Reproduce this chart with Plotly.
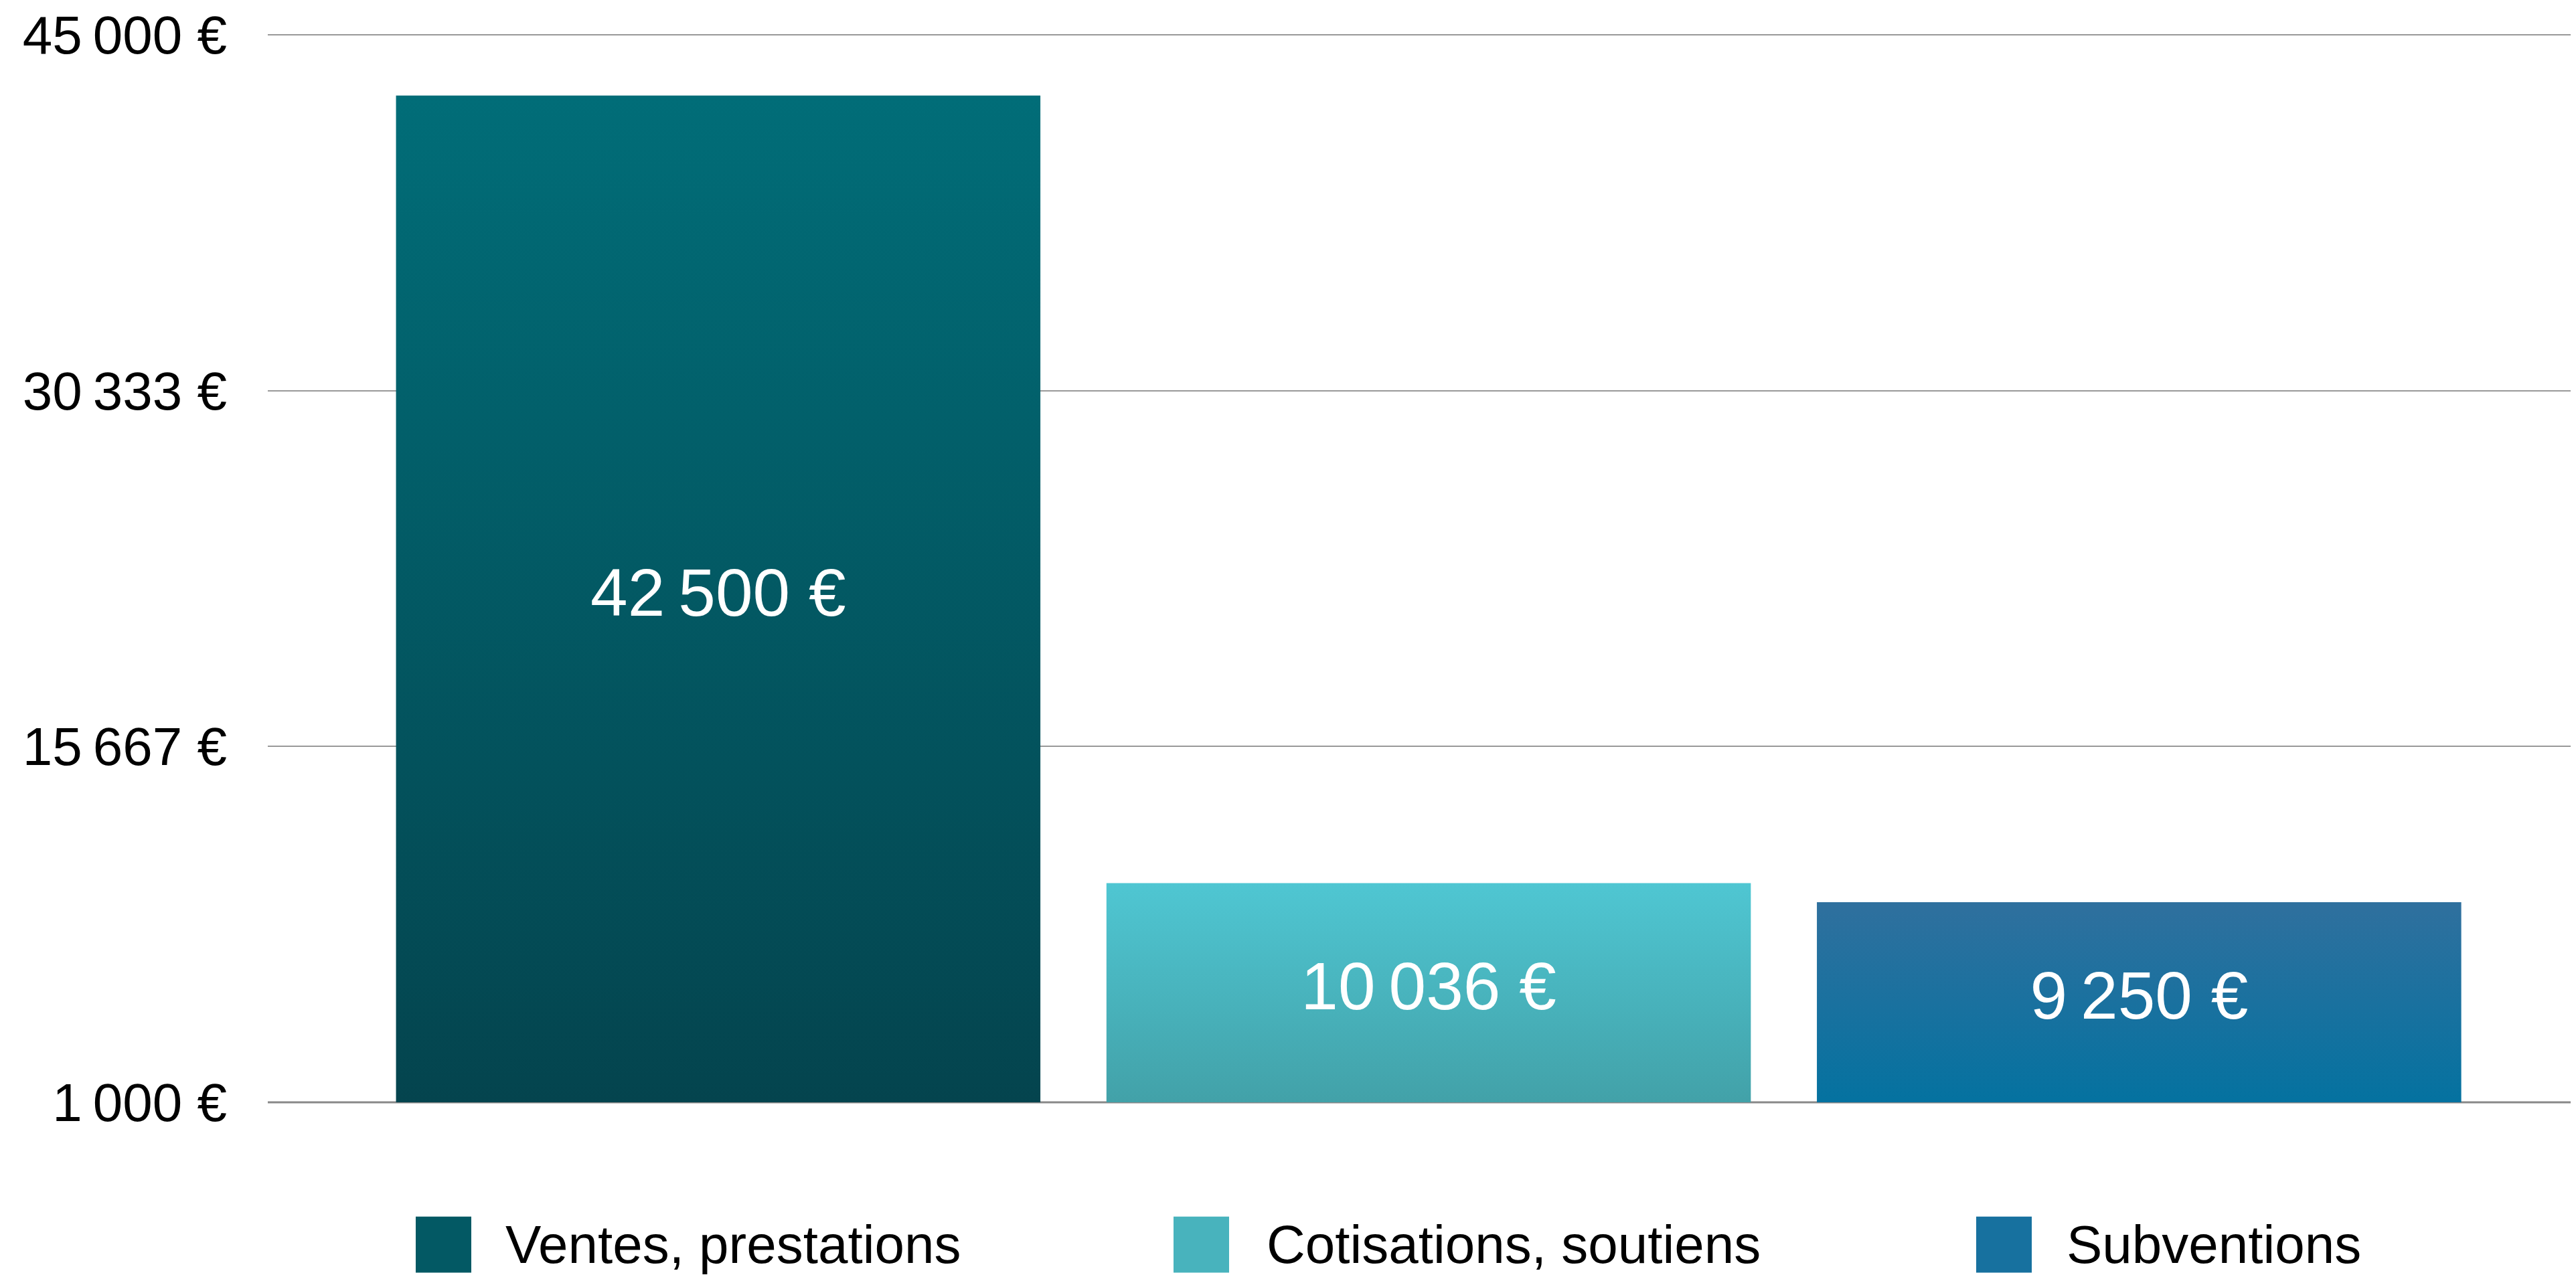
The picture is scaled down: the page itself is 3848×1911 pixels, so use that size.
import plotly.graph_objects as go

categories = ["Ventes, prestations", "Cotisations, soutiens", "Subventions"]
values = [42500, 10036, 9250]
value_labels = ["42\u202f500 €", "10\u202f036 €", "9\u202f250 €"]
top_colors = ["#016D78", "#4FC6D2", "#2F709E"]
bottom_colors = ["#04444E", "#42A1A8", "#0472A0"]
legend_colors = ["#035964", "#48B3BD", "#17719F"]
tick_values = [1000, 15667, 30333, 45000]
tick_labels = ["1\u202f000 €", "15\u202f667 €", "30\u202f333 €", "45\u202f000 €"]

Y_MIN, Y_MAX = 1000, 45000
BAR_WIDTH = 0.907
FONT = "Liberation Sans, Helvetica Neue, Arial, sans-serif"
GRID = '#999999'
OFF = 8  # page body margin
W, H = 3848 - OFF, 1911 - OFF
ML, MR, MT, MB = 400 - OFF, 0, 49 - OFF, 264


def px_x(p):
    return (p - OFF - ML) / (W - ML - MR)


def px_y(p):
    return (H - MB - (p - OFF)) / (H - MT - MB)


fig = go.Figure()

# bars as filled rectangles so they can carry a vertical gradient
for i, (cat, v) in enumerate(zip(categories, values)):
    x0, x1 = i - BAR_WIDTH / 2, i + BAR_WIDTH / 2
    fig.add_trace(go.Scatter(
        x=[x0, x1, x1, x0, x0], y=[0, 0, v, v, 0],
        fill='toself', mode='none', name=cat, showlegend=False, hoverinfo='skip',
        fillgradient=dict(type='vertical', start=Y_MIN, stop=v,
                          colorscale=[[0, bottom_colors[i]], [1, top_colors[i]]])
    ))

fig.add_trace(go.Scatter(
    x=list(range(len(values))), y=[(Y_MIN + v) / 2 for v in values],
    mode='text', text=value_labels, textposition='middle center',
    textfont=dict(family=FONT, size=100, color='white'),
    showlegend=False, hoverinfo='skip'
))

# grid lines at the range edges (plotly skips them)
fig.add_shape(type='line', xref='paper', yref='paper', x0=0, x1=1, y0=1, y1=1,
              line=dict(color=GRID, width=2), layer='below')
fig.add_shape(type='line', xref='paper', yref='paper', x0=0, x1=1, y0=0, y1=0,
              line=dict(color='#888888', width=3), layer='below')

# legend drawn by hand: big squares + labels
sq_left = [621, 1753, 2952]
txt_left = [753, 1890, 3085]
for i, cat in enumerate(categories):
    fig.add_shape(type='rect', xref='paper', yref='paper',
                  x0=px_x(sq_left[i]), x1=px_x(sq_left[i] + 83),
                  y0=px_y(1902), y1=px_y(1818),
                  fillcolor=legend_colors[i], line_width=0)
    fig.add_annotation(x=px_x(txt_left[i]), y=px_y(1860), xref='paper', yref='paper',
                       text=cat, showarrow=False, xanchor='left', yanchor='middle',
                       font=dict(family=FONT, size=80, color='black'))

fig.update_layout(
    width=W, height=H,
    margin=dict(l=ML, r=MR, t=MT, b=MB),
    paper_bgcolor='white', plot_bgcolor='white',
    showlegend=False,
    xaxis=dict(range=[-0.634, 2.615], visible=False, fixedrange=True),
    yaxis=dict(range=[Y_MIN, Y_MAX], tickvals=tick_values, ticktext=tick_labels,
               showgrid=True, gridcolor=GRID, gridwidth=2, zeroline=False,
               showline=False, ticks='', ticklabelstandoff=60, ticklabeloverflow='allow',
               tickfont=dict(family=FONT, size=80, color='black')),
)

fig.write_html("out.html")
